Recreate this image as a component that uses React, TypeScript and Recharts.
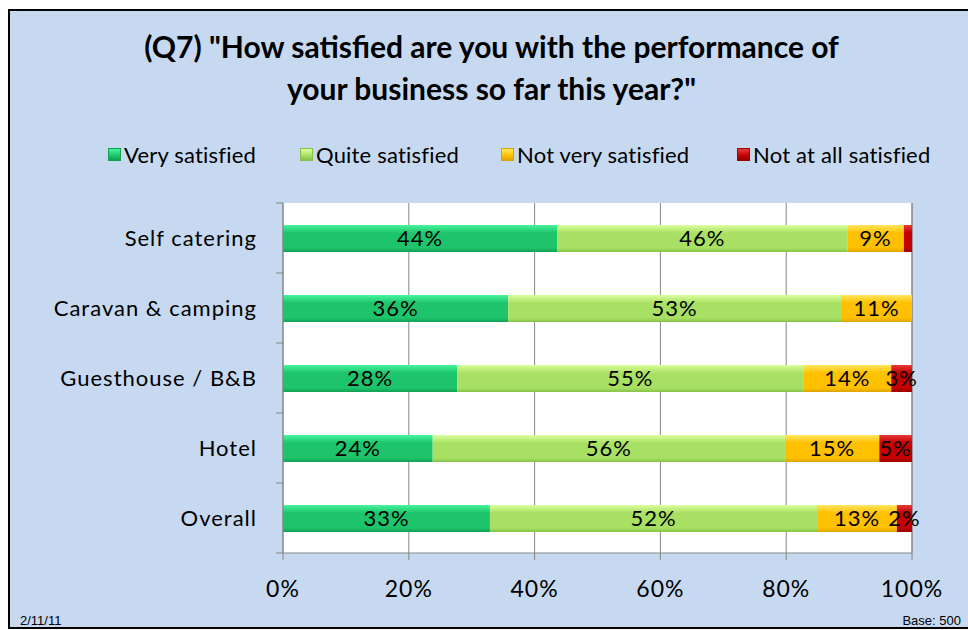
import { Bar, BarChart, CartesianGrid, LabelList, XAxis, YAxis } from "recharts";

const categories = ["Self catering", "Caravan & camping", "Guesthouse / B&B", "Hotel", "Overall"];
const verySatisfied = [43.6, 35.8, 27.7, 23.8, 32.9];
const quiteSatisfied = [46.1, 52.9, 55.0, 56.0, 52.0];
const notVerySatisfied = [9.0, 11.3, 14.0, 15.0, 12.7];
const notAtAllSatisfied = [1.3, 0, 3.3, 5.2, 2.4];
const xTicks = [0, 20, 40, 60, 80, 100];

// legend swatch x positions
const legendLeft = [108, 300, 501, 737];

const series = [
  { key: "very", name: "Very satisfied", top: "#46f59c", mid: "#1dc46b", bottom: "#10a054" },
  { key: "quite", name: "Quite satisfied", top: "#dcff9e", mid: "#a8e063", bottom: "#86c248" },
  { key: "notVery", name: "Not very satisfied", top: "#ffe660", mid: "#ffc000", bottom: "#dca400" },
  { key: "notAtAll", name: "Not at all satisfied", top: "#e83a3a", mid: "#c40000", bottom: "#9c0000" },
];

const data = categories.map((name, i) => ({
  name,
  very: verySatisfied[i],
  quite: quiteSatisfied[i],
  notVery: notVerySatisfied[i],
  notAtAll: notAtAllSatisfied[i],
}));

const FONT = "Lato, 'Open Sans', sans-serif";
const GRID = "#868686";

function pct(v: unknown) {
  const n = Number(v);
  if (!n || n < 1.5) return "";
  return `${Math.round(n)}%`;
}

function CategoryTick(props: any) {
  const { x, y, payload, index } = props;
  const half = 35;
  return (
    <g>
      <line x1={x - 7} x2={x} y1={y - half} y2={y - half} stroke={GRID} />
      {index === categories.length - 1 && (
        <line x1={x - 7} x2={x} y1={y + half} y2={y + half} stroke={GRID} />
      )}
      <text
        x={x - 26}
        y={y}
        dy={8}
        textAnchor="end"
        fontSize={22}
        letterSpacing={1}
        fill="#000"
        fontFamily={FONT}
      >
        {payload.value}
      </text>
    </g>
  );
}

export default function App() {
  return (
    <div
      style={{
        position: "fixed",
        left: 0,
        top: 0,
        width: 968,
        height: 630,
        overflow: "hidden",
        fontFamily: FONT,
        background: "#fff",
      }}
    >
      <div style={{ position: "absolute", left: 8, top: 9, width: 1200, height: 620, background: "#c6d9f0" }} />
      <div
        style={{
          position: "absolute",
          left: 0,
          top: 25,
          width: 983,
          textAlign: "center",
          fontSize: 30,
          fontWeight: 700,
          lineHeight: "42px",
          color: "#000",
        }}
      >
        (Q7) "How satisfied are you with the performance of
        <br />
        your business so far this year?"
      </div>
      {series.map((s, i) => (
        <div
          key={s.key}
          style={{
            position: "absolute",
            left: legendLeft[i],
            top: 141,
            display: "flex",
            alignItems: "center",
            fontSize: 22,
            letterSpacing: 0.2,
            color: "#000",
            whiteSpace: "nowrap",
          }}
        >
          <span
            style={{
              display: "inline-block",
              width: 13,
              height: 13,
              marginRight: 3,
              background: `linear-gradient(${s.top}, ${s.mid} 60%, ${s.bottom})`,
              border: `1px solid ${s.bottom}`,
              boxSizing: "border-box",
            }}
          />
          <span>{s.name}</span>
        </div>
      ))}
      <div style={{ position: "absolute", left: 0, top: 0 }}>
        <BarChart
          width={968}
          height={630}
          data={data}
          layout="vertical"
          barSize={27}
          margin={{ top: 203, right: 56, bottom: 47, left: 0 }}
        >
          <defs>
            {series.map((s) => (
              <linearGradient key={s.key} id={`grad-${s.key}`} x1="0" y1="0" x2="0" y2="1">
                <stop offset="0%" stopColor={s.top} />
                <stop offset="30%" stopColor={s.mid} />
                <stop offset="85%" stopColor={s.mid} />
                <stop offset="100%" stopColor={s.bottom} />
              </linearGradient>
            ))}
          </defs>
          <CartesianGrid horizontal={false} stroke={GRID} strokeOpacity={1} fill="#ffffff" fillOpacity={1} />
          <XAxis
            type="number"
            domain={[0, 100]}
            ticks={xTicks}
            tickFormatter={(v) => `${v}%`}
            height={30}
            axisLine={{ stroke: GRID }}
            tickLine={{ stroke: GRID }}
            tickSize={7}
            tickMargin={21}
            tick={{ fontSize: 23, fill: "#000", fontFamily: FONT, letterSpacing: 1 }}
            interval={0}
          />
          <YAxis
            type="category"
            dataKey="name"
            width={283}
            axisLine={{ stroke: GRID }}
            tickLine={false}
            tickSize={0}
            tickMargin={0}
            tick={<CategoryTick />}
            interval={0}
          />
          {series.map((s) => (
            <Bar
              key={s.key}
              dataKey={s.key}
              name={s.name}
              stackId="a"
              fill={`url(#grad-${s.key})`}
              isAnimationActive={false}
            >
              <LabelList
                dataKey={s.key}
                position="center"
                formatter={pct}
                fill="#000"
                fontSize={22}
                letterSpacing={1}
                fontFamily={FONT}
              />
            </Bar>
          ))}
        </BarChart>
      </div>
      <div
        style={{
          position: "absolute",
          left: 20,
          top: 613,
          fontSize: 13,
          fontFamily: "'Liberation Sans', Arial, sans-serif",
        }}
      >
        2/11/11
      </div>
      <div
        style={{
          position: "absolute",
          right: 7,
          top: 613,
          fontSize: 13,
          fontFamily: "'Liberation Sans', Arial, sans-serif",
        }}
      >
        Base: 500
      </div>
      <div
        style={{
          position: "absolute",
          left: 8,
          top: 9,
          width: 1200,
          height: 620,
          border: "2px solid #000",
          boxSizing: "border-box",
          pointerEvents: "none",
        }}
      />
    </div>
  );
}
